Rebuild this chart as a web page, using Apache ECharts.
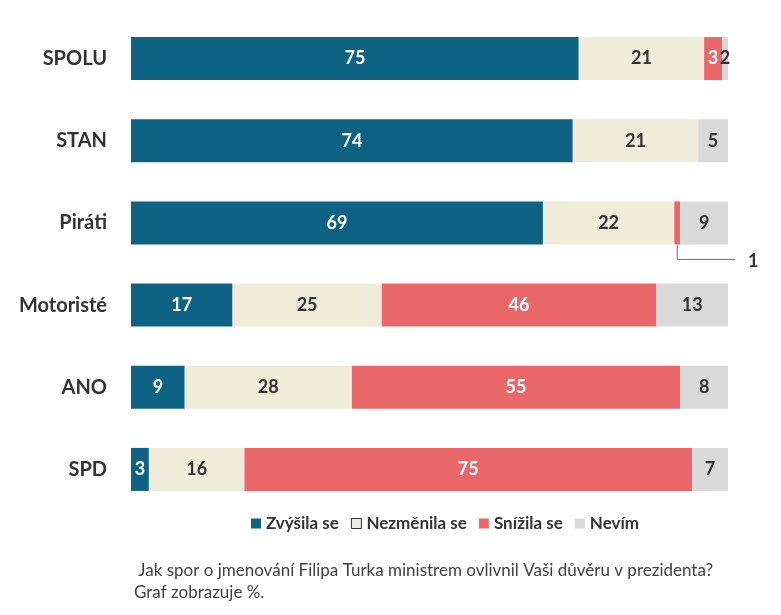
<!DOCTYPE html>
<html><head><meta charset="utf-8">
<script src="https://cdn.jsdelivr.net/npm/echarts@6/dist/echarts.min.js"></script>
<style>html,body{margin:0;padding:0;background:#fff}#c{width:781px;height:615px}</style>
</head><body><div id="c"></div>
<script>
const categories = ['SPOLU','STAN','Piráti','Motoristé','ANO','SPD'];
const zvysila = [75,74,69,17,9,3];
const nezmenila = [21,21,22,25,28,16];
const snizila = [3,0,1,46,55,75];
const nevim = [2,5,9,13,8,7];
const seriesNames = ['Zvýšila se','Nezměnila se','Snížila se','Nevím'];
const colors = ['#0e6385','#efecd9','#e96768','#d9d9d9'];
const labelColors = ['#fff','#333','#fff','#333'];
const font = 'Lato, "Open Sans", sans-serif';
// small segment labelled outside with a leader line
const calloutSeries = 2, calloutIndex = 2;

const chart = echarts.init(document.getElementById('c'));
const datas = [zvysila, nezmenila, snizila, nevim];
const series = datas.map((d,i)=>({
  name: seriesNames[i], type:'bar', stack:'t', barWidth:43, clip:true,
  itemStyle:{color:colors[i]},
  data: d.map((v,j)=>{
    const item = {value: v};
    if (v===0 || (i===calloutSeries && j===calloutIndex)) item.label={show:false};
    return item;
  }),
  label:{show:true, position:'inside', color:labelColors[i], fontSize:18, fontWeight:'bold', fontFamily:font}
}));

chart.setOption({
  animation:false,
  title:{text:' Jak spor o jmenování Filipa Turka ministrem ovlivnil Vaši důvěru v prezidenta?\nGraf zobrazuje %.',
    left:134, top:560, padding:0, textStyle:{fontSize:17, fontWeight:'normal', color:'#404040', fontFamily:font, lineHeight:22}},
  legend:{left:246, top:510, itemWidth:10, itemHeight:10, itemGap:12, icon:'rect',
    textStyle:{fontSize:17, fontWeight:'bold', color:'#333', fontFamily:font},
    data:[{name:seriesNames[0]},{name:seriesNames[1], itemStyle:{borderColor:'#333', borderWidth:1}},{name:seriesNames[2]},{name:seriesNames[3]}]},
  grid:{left:131, right:53, top:17.5, bottom:104.5},
  xAxis:{type:'value', min:0, max:100, show:false},
  yAxis:{type:'category', data:categories, inverse:true,
    axisLine:{show:false}, axisTick:{show:false},
    axisLabel:{fontSize:20, fontWeight:'bold', color:'#333', fontFamily:font, margin:24}},
  series
});

// leader line for the callout segment, positioned through the chart's own scales
let start = 0;
for (let k=0;k<calloutSeries;k++) start += datas[k][calloutIndex];
const mid = start + datas[calloutSeries][calloutIndex]/2;
const p = chart.convertToPixel({gridIndex:0}, [mid, categories[calloutIndex]]);
const right = chart.convertToPixel({gridIndex:0}, [100, categories[calloutIndex]]);
const yb = p[1] + 21.5;
chart.setOption({graphic:[
  {type:'polyline', shape:{points:[[p[0], yb],[p[0], yb+15],[right[0]+7, yb+15]]}, style:{stroke:'#6f6f6f', lineWidth:1, fill:null}},
  {type:'text', x:right[0]+20, y:yb+17, style:{text:String(datas[calloutSeries][calloutIndex]), fill:'#333', font:'bold 18px '+font, textAlign:'left', textVerticalAlign:'middle'}}
]});
</script></body></html>
